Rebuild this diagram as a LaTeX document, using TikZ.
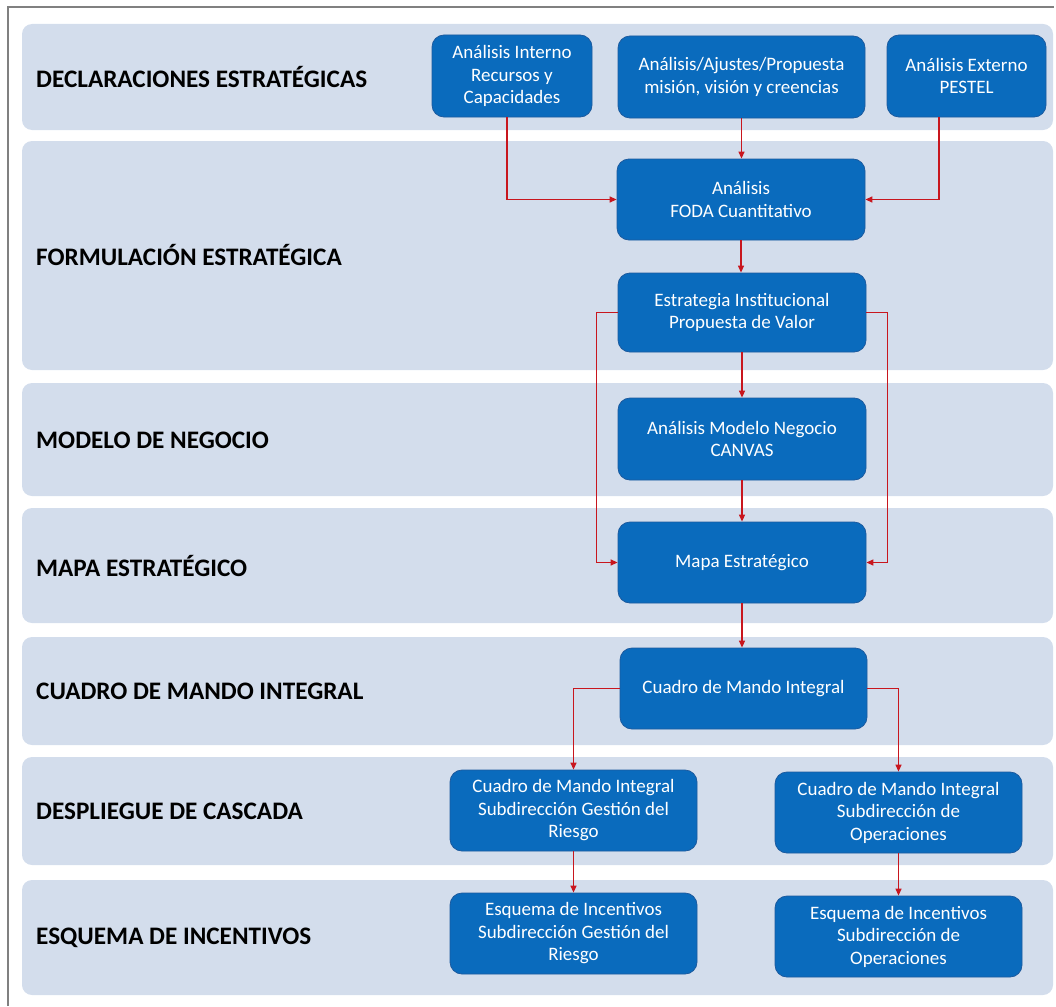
\documentclass[tikz,border=0pt]{standalone}
\usepackage{fontspec}
\setmainfont{Carlito}
\usetikzlibrary{arrows.meta}
\definecolor{bandfill}{HTML}{D3DDEC}
\definecolor{boxfill}{HTML}{0A6BBD}
\definecolor{boxedge}{HTML}{1C5A9E}
\definecolor{linkred}{HTML}{C8161E}
\definecolor{framegray}{HTML}{808080}

\begin{document}
\begin{tikzpicture}[x=1pt,y=-1pt,
  band/.style={fill=bandfill, draw=none, rounded corners=10pt},
  bandlabel/.style={anchor=west, inner sep=0pt, text=black,
    font=\fontsize{25.2}{28}\selectfont\bfseries},
  procbox/.style={fill=boxfill, draw=boxedge, line width=0.8pt,
    rounded corners=12pt, text=white, align=center, inner sep=0pt,
    font=\fontsize{19}{22.5}\selectfont},
  wide/.style={procbox, minimum width=247pt, minimum height=81pt},
  link/.style={draw=linkred, line width=1.3pt,
    -{Triangle[length=7pt,width=6pt]}}
]
\useasboundingbox (0,0) rectangle (1056,1006);

% outer frame
\draw[framegray, line width=2pt] (8,1006) -- (8,7) -- (1054,7);

% horizontal bands
\fill[band] (22,24)  rectangle (1053,130);
\fill[band] (22,141) rectangle (1053,370);
\fill[band] (22,383) rectangle (1053,496);
\fill[band] (22,508) rectangle (1053,623);
\fill[band] (22,637) rectangle (1053,745);
\fill[band] (22,757) rectangle (1053,865);
\fill[band] (22,880) rectangle (1053,995);

% band titles
\node[bandlabel] (l1) at (36,77)  {DECLARACIONES ESTRATÉGICAS};
\node[bandlabel] (l2) at (36,255) {FORMULACIÓN ESTRATÉGICA};
\node[bandlabel] (l3) at (36,440) {MODELO DE NEGOCIO};
\node[bandlabel] (l4) at (36,566) {MAPA ESTRATÉGICO};
\node[bandlabel] (l5) at (36,691) {CUADRO DE MANDO INTEGRAL};
\node[bandlabel] (l6) at (36,811) {DESPLIEGUE DE CASCADA};
\node[bandlabel] (l7) at (36,938) {ESQUEMA DE INCENTIVOS};

% process boxes
\node[procbox, minimum width=160pt, minimum height=82pt] (ai) at (512,76)
  {Análisis Interno\\Recursos y\\Capacidades};
\node[procbox, minimum width=247pt, minimum height=82pt] (am) at (741.5,77)
  {Análisis/Ajustes/Propuesta\\misión, visión y creencias};
\node[procbox, minimum width=159pt, minimum height=82pt] (ae) at (966.5,76)
  {Análisis Externo\\PESTEL};
\node[wide, minimum width=248pt] (foda) at (741,199.5)
  {Análisis\\FODA Cuantitativo};
\node[wide, minimum width=248pt, minimum height=79pt] (est) at (742,312.5)
  {Estrategia Institucional\\Propuesta de Valor};
\node[wide, minimum width=248pt, minimum height=82pt] (canvas) at (742,439)
  {Análisis Modelo Negocio\\CANVAS};
\node[wide, minimum width=248pt] (mapa) at (742,562.5)
  {Mapa Estratégico};
\node[wide] (cmi) at (743.5,688.5)
  {Cuadro de Mando Integral};
\node[wide] (cmir) at (573.5,810.5)
  {Cuadro de Mando Integral\\Subdirección Gestión del\\Riesgo};
\node[wide] (cmio) at (898.5,812.5)
  {Cuadro de Mando Integral\\Subdirección de\\Operaciones};
\node[wide] (incr) at (573.5,933.5)
  {Esquema de Incentivos\\Subdirección Gestión del\\Riesgo};
\node[wide] (inco) at (898.5,936.5)
  {Esquema de Incentivos\\Subdirección de\\Operaciones};

% connectors
\draw[link] ([xshift=-5pt]ai.south) |- (foda.west);
\draw[link] (am.south) -- (am.south |- foda.north);
\draw[link] ([xshift=-27.5pt]ae.south) |- (foda.east);
\draw[link] (foda.south) -- (foda.south |- est.north);
\draw[link] (est.south) -- (canvas.north);
\draw[link] (canvas.south) -- (mapa.north);
\draw[link] (est.west) -- ++(-21,0) |- (mapa.west);
\draw[link] (est.east) -- ++(21,0) |- (mapa.east);
\draw[link] (mapa.south) -- (mapa.south |- cmi.north);
\draw[link] (cmi.west) -| (cmir.north);
\draw[link] (cmi.east) -| (cmio.north);
\draw[link] (cmir.south) -- (incr.north);
\draw[link] (cmio.south) -- (inco.north);
\end{tikzpicture}
\end{document}
